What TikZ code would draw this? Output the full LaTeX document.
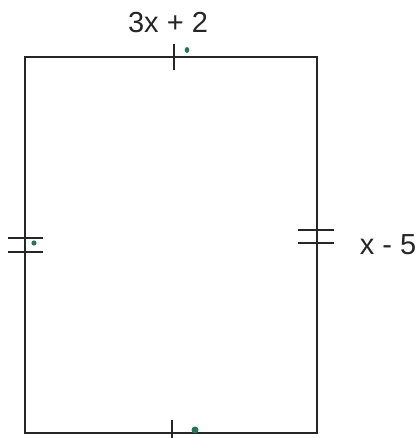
\documentclass[tikz,border=0pt]{standalone}
\usepackage{fontspec}
\setmainfont{Liberation Sans}
\definecolor{ink}{HTML}{262626}
\definecolor{pen}{HTML}{1E7A4E}
\begin{document}
\begin{tikzpicture}[x=1pt,y=-1pt,
  edge/.style={draw=ink,line width=1.8pt},
  tick/.style={draw=ink,line width=1.8pt},
  lbl/.style={font=\fontsize{29}{34}\selectfont,text=ink,inner sep=0pt,anchor=base},
  dot/.style={fill=pen,draw=none}]
\useasboundingbox (0,0) rectangle (418,438);
\coordinate (tl) at (25,57);
\coordinate (tr) at (317,57);
\coordinate (br) at (317,433);
\coordinate (bl) at (25,433);
\draw[edge] (tl) -- (tr) -- (br) -- (bl) -- cycle;
% single ticks
\draw[tick] (174,44) -- (174,70);
\draw[tick] (172,420) -- (172,438);
% double ticks
\draw[tick] (8,238) -- (43,238);
\draw[tick] (8,252) -- (43,252);
\draw[tick] (298,230) -- (334,230);
\draw[tick] (298,243) -- (334,243);
% labels
\node[lbl] (top) at (168,33) {3x + 2};
\node[lbl] (right) at (388,254) {x - 5};
% pen marks
\fill[dot] (187,50) ellipse (2.3 and 3);
\fill[dot] (34,243) circle (2.6);
\fill[dot] (195,430) circle (3.5);
\end{tikzpicture}
\end{document}
